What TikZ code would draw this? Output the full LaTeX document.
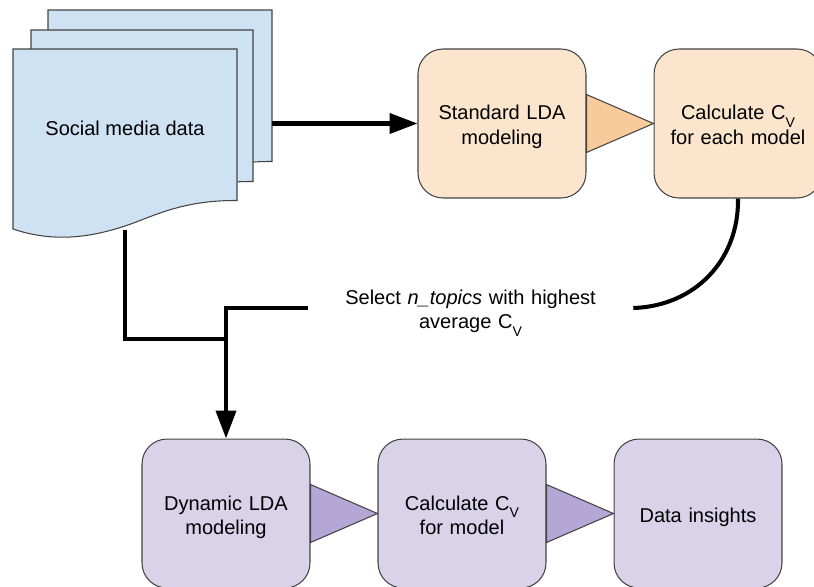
\documentclass[tikz,border=0pt]{standalone}
\usepackage{fontspec}
\setmainfont{Liberation Sans}
\usetikzlibrary{arrows.meta}

\definecolor{docblue}{HTML}{CFE2F3}
\definecolor{stdbox}{HTML}{FCE5CD}
\definecolor{stdtri}{HTML}{F9CB9C}
\definecolor{dynbox}{HTML}{D9D2E9}
\definecolor{dyntri}{HTML}{B4A7D6}
\definecolor{edge}{HTML}{434343}

\newcommand{\subV}{\raisebox{-4.2pt}[0pt][0pt]{\fontsize{8}{8}\selectfont V}}

\tikzset{
  sheet/.style={draw=edge, line width=0.6pt, fill=docblue},
  box/.style={draw=edge, line width=0.6pt, rounded corners=0.5cm, minimum width=3.36cm,
    minimum height=2.98cm, text width=3cm, align=center, font=\fontsize{11.4}{14.2}\selectfont,
    execute at begin node={\rule{0pt}{12.7pt}},
    execute at end node={\rule[-2.5pt]{0pt}{2.5pt}}},
  tri/.style={draw=edge, line width=0.6pt, line join=miter},
  flow/.style={line width=2.3pt, black},
  head/.style={-{Triangle[length=0.56cm, width=0.4cm]}},
  plain/.style={align=center, font=\fontsize{11.4}{14.2}\selectfont}
}

\begin{document}
\begin{tikzpicture}[x=0.02cm, y=-0.02cm]
\useasboundingbox (0,0) rectangle (814,586);

% stacked document
\foreach \l/\r/\t in {48/272/10, 31/253/30, 13/237/49} {
  \draw[sheet] (\l,\t) -- (\r,\t) -- (\r,{\t+151.5})
    .. controls ({\r-57},{\t+151}) and ({\r-87},{\t+169}) .. ({\r-112},{\t+177})
    .. controls ({\r-137},{\t+185}) and ({\r-177},{\t+196}) .. (\l,{\t+180}) -- cycle;
}
\node[plain] (data) at (125,128) {Social media data};
\coordinate (dataright) at (272,123.5);
\coordinate (databottom) at (125,230);

% top row
\node[box, fill=stdbox] (stdlda) at (502,123.5) {Standard LDA\\modeling};
\node[box, fill=stdbox] (stdcv) at (738,123.5) {Calculate C\subV\\for each model};
\draw[tri, fill=stdtri] ([yshift=0.58cm]stdlda.east) -- (stdcv.west) -- ([yshift=-0.58cm]stdlda.east) -- cycle;

% bottom row
\node[box, fill=dynbox] (dynlda) at (226,513.5) {Dynamic LDA\\modeling};
\node[box, fill=dynbox] (dyncv) at (462,513.5) {Calculate C\subV\\for model};
\node[box, fill=dynbox] (insights) at (698,513.5) {Data insights};
\draw[tri, fill=dyntri] ([yshift=0.58cm]dynlda.east) -- (dyncv.west) -- ([yshift=-0.58cm]dynlda.east) -- cycle;
\draw[tri, fill=dyntri] ([yshift=0.58cm]dyncv.east) -- (insights.west) -- ([yshift=-0.58cm]dyncv.east) -- cycle;

% label in the middle
\node[plain, text width=6.5cm, inner sep=0pt, execute at begin node={\rule{0pt}{12pt}}] (select) at (470.5,308) {Select \textit{n\_topics} with highest\\average C\subV};

% connectors
\draw[flow, head] (dataright) -- (stdlda.west);
\draw[flow] (stdcv.south) .. controls (739,260) and (695,306) .. (select.east);
\coordinate (merge) at (226,339);
\draw[flow, line join=miter] (databottom) |- (merge);
\draw[flow, line join=miter, head] (select.west) -| (dynlda.north);
\end{tikzpicture}
\end{document}
